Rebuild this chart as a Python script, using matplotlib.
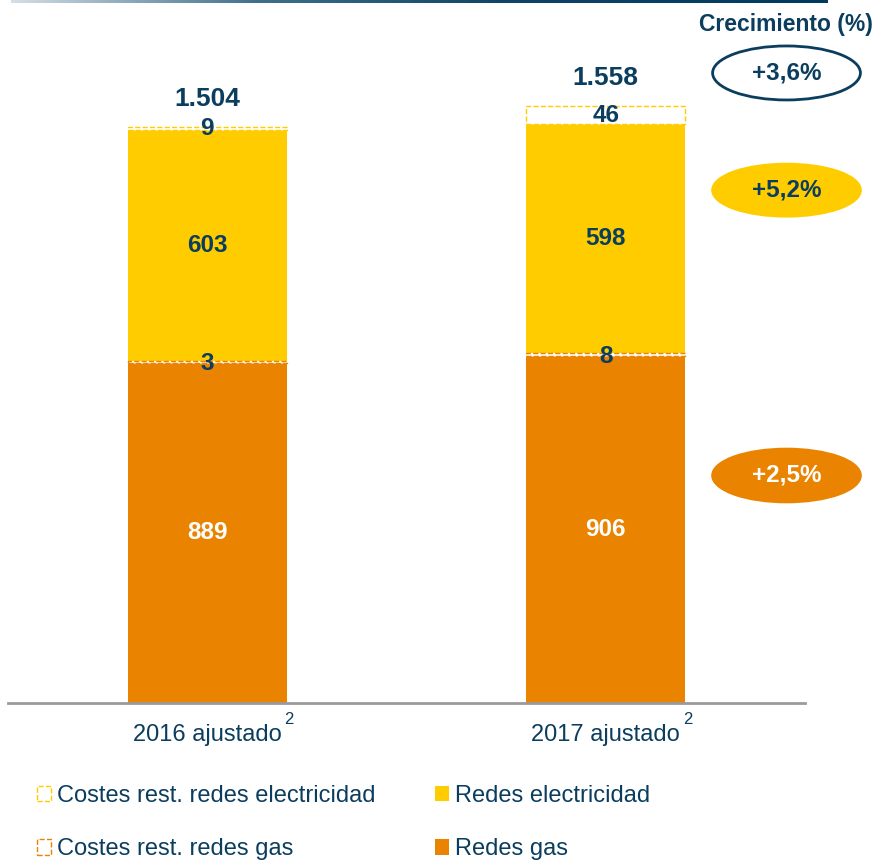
import numpy as np
import matplotlib.pyplot as plt
from matplotlib.patches import Ellipse
from matplotlib.colors import LinearSegmentedColormap

plt.rcParams['font.family'] = ['Liberation Sans', 'DejaVu Sans']

# Data (millones de euros)
categories = ['2016 ajustado', '2017 ajustado']
redes_gas = [889, 906]
costes_gas = [3, 8]
redes_elec = [603, 598]
costes_elec = [9, 46]
totals = ['1.504', '1.558']
growth = ['+3,6%', '+5,2%', '+2,5%']

NAVY = '#0b3d5e'
ORANGE = '#e98300'
YELLOW = '#ffcc00'

fig = plt.figure(figsize=(8.78, 8.61), dpi=100)
ax = fig.add_axes([8 / 878, 1 - 703 / 861, 797 / 878, 703 / 861])

x = np.arange(len(categories))
w = 0.40
b1 = np.array(redes_gas)
b2 = b1 + np.array(costes_gas)
b3 = b2 + np.array(redes_elec)

h_gas = ax.bar(x, redes_gas, w, color=ORANGE, linewidth=0, label='Redes gas')
h_cgas = ax.bar(x, costes_gas, w, bottom=b1, facecolor='white', edgecolor=ORANGE,
                linestyle='--', linewidth=1, label='Costes rest. redes gas', zorder=3)
h_elec = ax.bar(x, redes_elec, w, bottom=b2, color=YELLOW, linewidth=0,
                label='Redes electricidad')
h_celec = ax.bar(x, costes_elec, w, bottom=b3, facecolor='white', edgecolor=YELLOW,
                 linestyle='--', linewidth=1, label='Costes rest. redes electricidad',
                 zorder=3)

lbl = dict(ha='center', va='center', fontsize=17.5, fontweight='bold', zorder=5)
for i in x:
    ax.text(i, redes_gas[i] / 2, str(redes_gas[i]), color='white', **lbl)
    ax.text(i, b1[i] + costes_gas[i] / 2 - 4, str(costes_gas[i]), color=NAVY, **lbl)
    ax.text(i, b2[i] + redes_elec[i] / 2, str(redes_elec[i]), color=NAVY, **lbl)
    ax.text(i, b3[i] + costes_elec[i] / 2, str(costes_elec[i]), color=NAVY, **lbl)
    ax.annotate(totals[i], (i, b3[i] + costes_elec[i]), xytext=(0, 28),
                textcoords='offset pixels', ha='center', va='center',
                fontsize=19, fontweight='bold', color=NAVY)
    # category labels with footnote mark
    ax.annotate(categories[i], (i, 0), xycoords=('data', 'axes fraction'),
                xytext=(0, -32), textcoords='offset pixels', ha='center',
                va='center', fontsize=17, color=NAVY, annotation_clip=False)
    ax.annotate('2', (i, 0), xycoords=('data', 'axes fraction'),
                xytext=(82, -17), textcoords='offset pixels', ha='center',
                va='center', fontsize=12, color=NAVY, annotation_clip=False)

# growth bubbles on the right
bubbles = [(1645, 141, 'white', NAVY, NAVY),
           (1339, 136, YELLOW, YELLOW, NAVY),
           (594, 138, ORANGE, ORANGE, 'white')]
for g, (yc, hgt, fc, ec, tc) in zip(growth, bubbles):
    ax.add_patch(Ellipse((1.4536, yc), 0.371, hgt, facecolor=fc, edgecolor=ec,
                         linewidth=2, clip_on=False))
    ax.text(1.4536, yc, g, ha='center', va='center', fontsize=17.5,
            fontweight='bold', color=tc, clip_on=False)

fig.text(873 / 878, 1 - 24 / 861, 'Crecimiento (%)', ha='right', va='center',
         fontsize=16.5, fontweight='bold', color=NAVY)

ax.set_xlim(-0.5, 1.5)
ax.set_ylim(0, 703 / 0.383)
for s in ['top', 'left', 'right']:
    ax.spines[s].set_visible(False)
ax.spines['bottom'].set_color('#9a9a9a')
ax.spines['bottom'].set_linewidth(2)
ax.set_xticks([])
ax.set_yticks([])

leg = ax.legend(handles=[h_celec, h_cgas, h_elec, h_gas], ncol=2, frameon=False,
                loc='upper left', bbox_to_anchor=(37 / 878, 1 - 785 / 861),
                bbox_transform=fig.transFigure, fontsize=17, borderpad=0,
                borderaxespad=0, handlelength=0.6, handleheight=0.62,
                handletextpad=0.25, labelspacing=1.32, columnspacing=2.5)
for t in leg.get_texts():
    t.set_color(NAVY)

# gradient rule along the top
top = fig.add_axes([11 / 878, 1 - 3 / 861, 817 / 878, 3 / 861])
cmap = LinearSegmentedColormap.from_list(
    'rule', [(0, '#d3dde5'), (0.3, '#3f6f8c'), (0.6, '#0f4567'), (1, '#003a5e')])
top.imshow(np.linspace(0, 1, 256)[None, :], aspect='auto', cmap=cmap)
top.axis('off')

fig.savefig('out.png', dpi=100)
